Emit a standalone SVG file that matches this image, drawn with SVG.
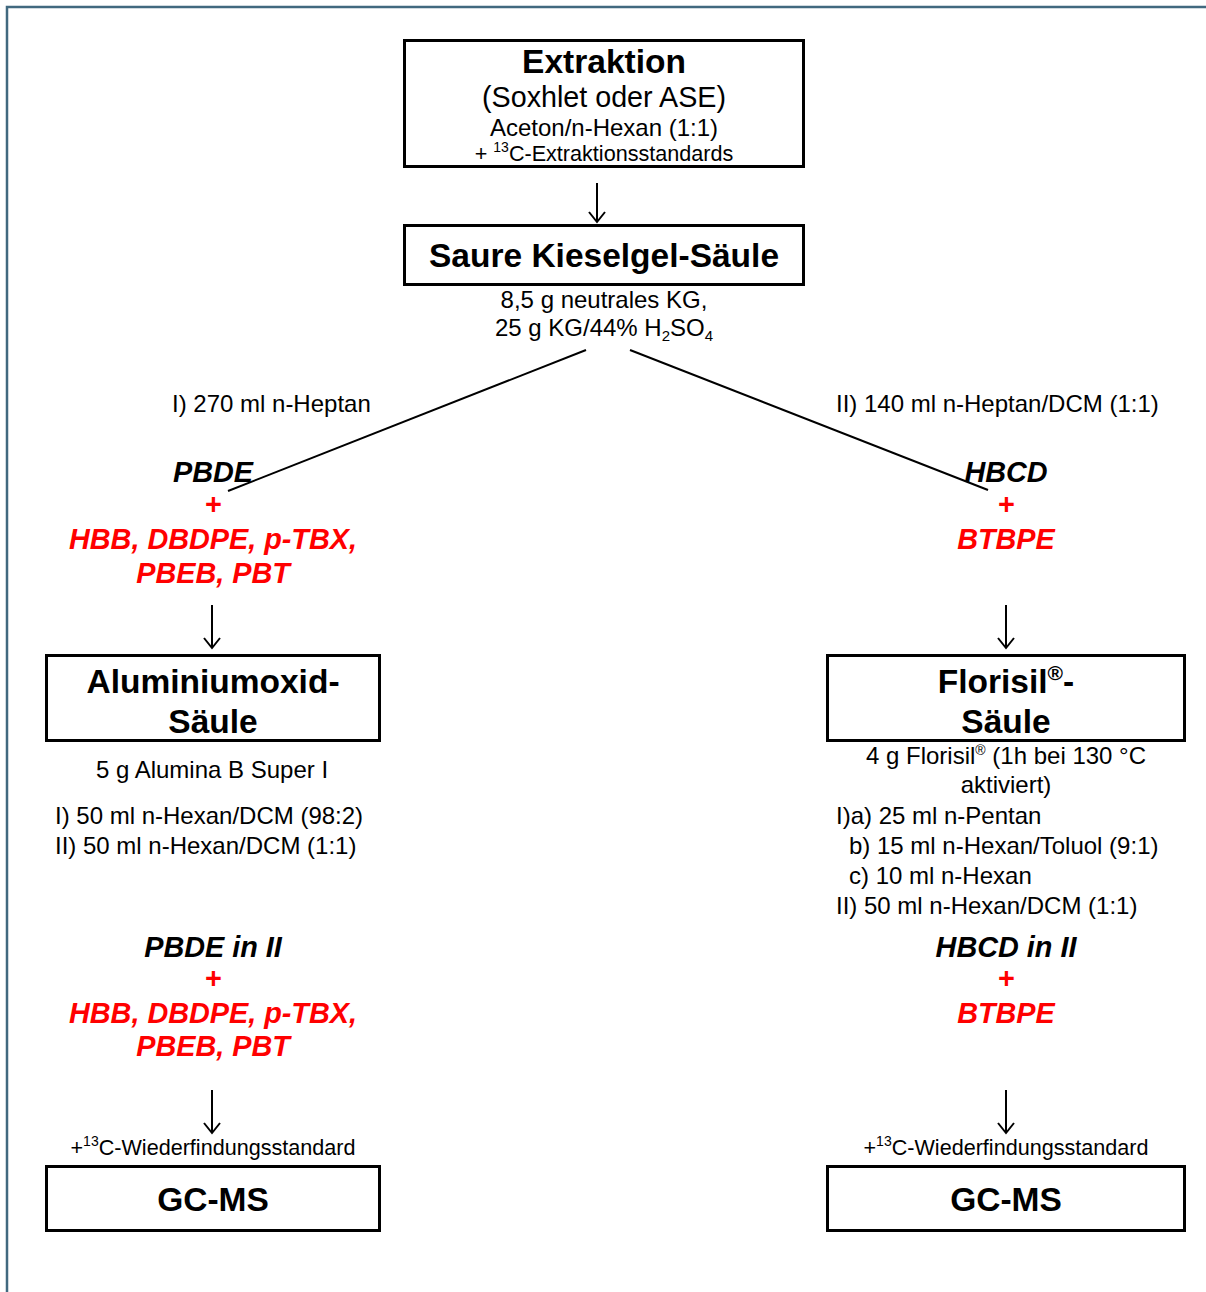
<svg xmlns="http://www.w3.org/2000/svg" width="1206" height="1292" viewBox="0 0 1206 1292">
<style>
text{font-family:"Liberation Sans",Arial,sans-serif;fill:#000;text-anchor:middle}
.t{font-size:33.5px;font-weight:bold}
.s{font-size:28.7px}
.b{font-size:24px}
.m{font-size:21.6px}
.l{text-anchor:start}
.bi{font-size:28.8px;font-weight:bold;font-style:italic}
.r{fill:#ff0000}
.box{fill:#fff;stroke:#000;stroke-width:3}
.con{fill:none;stroke:#000;stroke-width:2}
</style>
<rect width="1206" height="1292" fill="#fff"/>
<path d="M7,1292 V7 H1206" fill="none" stroke="#41697f" stroke-width="2.5"/>
<g id="connectors">
<path class="con" d="M597,183 V222 M589,212 L597,222 L605,212"/>
<path class="con" d="M586,350 L228,491"/>
<path class="con" d="M630,350 L988,490"/>
<path class="con" d="M212,605 V648 M204,638 L212,648 L220,638"/>
<path class="con" d="M1006,605 V648 M998,638 L1006,648 L1014,638"/>
<path class="con" d="M212,1090 V1133 M204,1123 L212,1133 L220,1123"/>
<path class="con" d="M1006,1090 V1133 M998,1123 L1006,1133 L1014,1123"/>
</g>
<g id="extraktion">
<rect class="box" x="404.5" y="40.5" width="399" height="126"/>
<text class="t" x="604" y="73">Extraktion</text>
<text class="s" x="604" y="107">(Soxhlet oder ASE)</text>
<text class="b" x="604" y="136">Aceton/n-Hexan (1:1)</text>
<text class="m" x="604" y="161">+ <tspan font-size="14" dy="-9">13</tspan><tspan dy="9">C-Extraktionsstandards</tspan></text>
</g>
<g id="kieselgel">
<rect class="box" x="404.5" y="225.5" width="399" height="59"/>
<text class="t" x="604" y="267">Saure Kieselgel-Säule</text>
<text class="b" x="604" y="308">8,5 g neutrales KG,</text>
<text class="b" x="604" y="336">25 g KG/44% H<tspan font-size="15" dy="5">2</tspan><tspan dy="-5">SO</tspan><tspan font-size="15" dy="5">4</tspan></text>
</g>
<g id="label-I">
<text class="b l" x="172" y="412">I) 270 ml n-Heptan</text>
</g>
<g id="label-II">
<text class="b l" x="836" y="412">II) 140 ml n-Heptan/DCM (1:1)</text>
</g>
<g id="fraction-left">
<text class="bi" x="213" y="482">PBDE</text>
<text class="bi r" x="213" y="514" font-style="normal">+</text>
<text class="bi r" x="213" y="549">HBB, DBDPE, p-TBX,</text>
<text class="bi r" x="213" y="583">PBEB, PBT</text>
</g>
<g id="fraction-right">
<text class="bi" x="1006" y="482">HBCD</text>
<text class="bi r" x="1006" y="514" font-style="normal">+</text>
<text class="bi r" x="1006" y="549">BTBPE</text>
</g>
<g id="aluminiumoxid">
<rect class="box" x="46.5" y="655.5" width="333" height="85"/>
<text class="t" x="213" y="693">Aluminiumoxid-</text>
<text class="t" x="213" y="733">Säule</text>
<text class="b" x="212" y="778">5 g Alumina B Super I</text>
<text class="b l" x="55" y="824">I) 50 ml n-Hexan/DCM (98:2)</text>
<text class="b l" x="55" y="854">II) 50 ml n-Hexan/DCM (1:1)</text>
</g>
<g id="florisil">
<rect class="box" x="827.5" y="655.5" width="357" height="85"/>
<text class="t" x="1006" y="693">Florisil<tspan font-size="21" dy="-13">®</tspan><tspan dy="13">-</tspan></text>
<text class="t" x="1006" y="733">Säule</text>
<text class="b" x="1006" y="764">4 g Florisil<tspan font-size="14" dy="-9">®</tspan><tspan dy="9"> (1h bei 130 °C</tspan></text>
<text class="b" x="1006" y="793">aktiviert)</text>
<text class="b l" x="836" y="824">I)a) 25 ml n-Pentan</text>
<text class="b l" x="849" y="854">b) 15 ml n-Hexan/Toluol (9:1)</text>
<text class="b l" x="849" y="884">c) 10 ml n-Hexan</text>
<text class="b l" x="836" y="914">II) 50 ml n-Hexan/DCM (1:1)</text>
</g>
<g id="result-left">
<text class="bi" x="213" y="957">PBDE in II</text>
<text class="bi r" x="213" y="988" font-style="normal">+</text>
<text class="bi r" x="213" y="1023">HBB, DBDPE, p-TBX,</text>
<text class="bi r" x="213" y="1056">PBEB, PBT</text>
</g>
<g id="result-right">
<text class="bi" x="1006" y="957">HBCD in II</text>
<text class="bi r" x="1006" y="988" font-style="normal">+</text>
<text class="bi r" x="1006" y="1023">BTBPE</text>
</g>
<g id="gcms-left">
<text class="m" x="213" y="1155">+<tspan font-size="14" dy="-9">13</tspan><tspan dy="9">C-Wiederfindungsstandard</tspan></text>
<rect class="box" x="46.5" y="1166.5" width="333" height="64"/>
<text class="t" x="213" y="1211">GC-MS</text>
</g>
<g id="gcms-right">
<text class="m" x="1006" y="1155">+<tspan font-size="14" dy="-9">13</tspan><tspan dy="9">C-Wiederfindungsstandard</tspan></text>
<rect class="box" x="827.5" y="1166.5" width="357" height="64"/>
<text class="t" x="1006" y="1211">GC-MS</text>
</g>
</svg>
